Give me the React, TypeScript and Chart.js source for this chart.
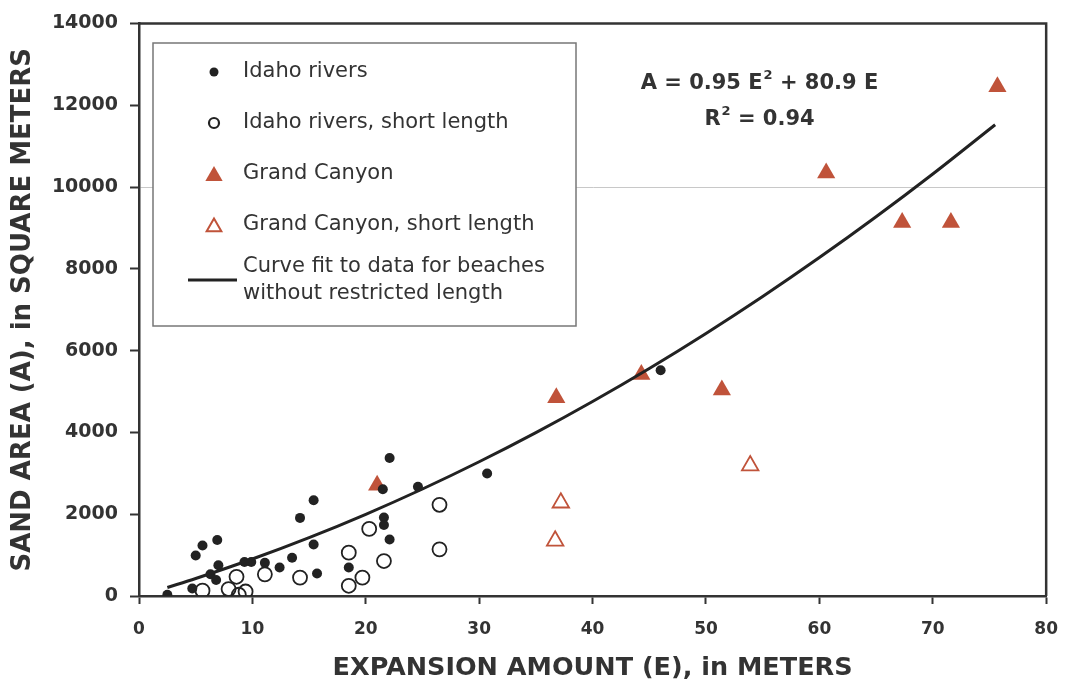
import React, { useEffect, useRef } from "react";
import { Chart, registerables } from "chart.js";
Chart.register(...registerables);

// ---- data ----
const idahoX = [2.5, 4.7, 5.0, 5.6, 6.9, 6.3, 7.0, 6.8, 9.3, 9.9, 11.1, 12.4, 13.5, 14.2, 15.4, 15.4, 15.7, 18.5, 21.5, 21.6, 21.6, 22.1, 22.1, 24.6, 30.7, 46.0];
const idahoY = [30, 185, 990, 1235, 1370, 530, 750, 390, 830, 830, 810, 695, 935, 1910, 2340, 1260, 550, 695, 2610, 1920, 1735, 1380, 3375, 2670, 2995, 5520];
const idahoShortX = [5.6, 7.9, 8.6, 8.8, 9.4, 11.1, 14.2, 18.5, 18.5, 19.7, 20.3, 21.6, 26.5, 26.5];
const idahoShortY = [130, 170, 470, 30, 110, 530, 450, 1060, 250, 450, 1640, 855, 2230, 1140];
const canyonX = [21.0, 36.8, 44.3, 51.4, 60.6, 67.3, 71.6, 75.7];
const canyonY = [2710, 4850, 5415, 5035, 10340, 9130, 9130, 12450];
const canyonShortX = [36.7, 37.2, 53.9];
const canyonShortY = [1350, 2280, 3190];
const curveX = [2.5, 5, 10, 15, 20, 25, 30, 35, 40, 45, 50, 55, 60, 65, 70, 75.5];
const curveY = [208, 428, 904, 1427, 1998, 2616, 3282, 3995, 4756, 5564, 6420, 7323, 8274, 9272, 10318, 11523];
const xTickValues = [0, 10, 20, 30, 40, 50, 60, 70, 80];
const yTickValues = [0, 2000, 4000, 6000, 8000, 10000, 12000, 14000];
const gridLineValue = 10000;
const legendLabels = ["Idaho rivers", "Idaho rivers, short length", "Grand Canyon", "Grand Canyon, short length"];
const curveLabel = ["Curve fit to data for beaches", "without restricted length"];

const FONT = "'DejaVu Sans', Verdana, sans-serif";
const INK = "#333333";
const DOT = "#222222";
const RUST = "#C0533A";

const pts = (xs: number[], ys: number[]) => xs.map((x, i) => ({ x, y: ys[i] }));

export default function App() {
  const ref = useRef<HTMLCanvasElement>(null);
  useEffect(() => {
    const canvas = ref.current!;
    const overlay = {
      id: "overlay",
      afterDraw(chart: any) {
        const { ctx, chartArea: a } = chart;
        ctx.save();
        // frame top/right
        ctx.strokeStyle = INK;
        ctx.lineWidth = 2.5;
        ctx.beginPath();
        ctx.moveTo(a.left, a.top);
        ctx.lineTo(a.right, a.top);
        ctx.lineTo(a.right, a.bottom);
        ctx.stroke();
        // legend box
        const bx = 153, by = 43, bw = 423, bh = 283;
        ctx.fillStyle = "#ffffff";
        ctx.fillRect(bx, by, bw, bh);
        ctx.strokeStyle = "#777777";
        ctx.lineWidth = 1.5;
        ctx.strokeRect(bx, by, bw, bh);
        const mx = 214, tx = 243;
        const rows = [72, 123, 174, 225];
        ctx.font = `21px ${FONT}`;
        ctx.textBaseline = "middle";
        ctx.textAlign = "left";
        rows.forEach((ry, i) => {
          ctx.fillStyle = INK;
          ctx.fillText(legendLabels[i], tx, ry);
        });
        // markers
        ctx.fillStyle = DOT;
        ctx.beginPath(); ctx.arc(mx, rows[0], 4.5, 0, Math.PI * 2); ctx.fill();
        ctx.strokeStyle = DOT; ctx.lineWidth = 2.2;
        ctx.beginPath(); ctx.arc(mx, rows[1], 5, 0, Math.PI * 2); ctx.stroke();
        const tri = (cx: number, cy: number, r: number) => {
          ctx.beginPath();
          ctx.moveTo(cx, cy - r);
          ctx.lineTo(cx + r * 0.866, cy + r * 0.5);
          ctx.lineTo(cx - r * 0.866, cy + r * 0.5);
          ctx.closePath();
        };
        ctx.fillStyle = RUST;
        tri(mx, rows[2] + 2, 10); ctx.fill();
        ctx.strokeStyle = RUST; ctx.lineWidth = 2;
        tri(mx, rows[3] + 2, 8.5); ctx.stroke();
        ctx.strokeStyle = DOT; ctx.lineWidth = 3;
        ctx.beginPath(); ctx.moveTo(188, 280); ctx.lineTo(237, 280); ctx.stroke();
        ctx.fillStyle = INK;
        ctx.fillText(curveLabel[0], tx, 267);
        ctx.fillText(curveLabel[1], tx, 294);
        // equation
        const cx = 759;
        const big = `bold 21px ${FONT}`, small = `bold 13px ${FONT}`;
        const p1 = "A = 0.95 E", p2 = "2", p3 = " + 80.9 E";
        ctx.font = big; const w1 = ctx.measureText(p1).width; const w3 = ctx.measureText(p3).width;
        ctx.font = small; const w2 = ctx.measureText(p2).width;
        let x0 = cx - (w1 + w2 + w3) / 2;
        ctx.fillStyle = INK;
        ctx.font = big; ctx.fillText(p1, x0, 84);
        ctx.font = small; ctx.fillText(p2, x0 + w1 + 1, 76);
        ctx.font = big; ctx.fillText(p3, x0 + w1 + w2 + 1, 84);
        const q1 = "R", q2 = "2", q3 = " = 0.94";
        ctx.font = big; const v1 = ctx.measureText(q1).width; const v3 = ctx.measureText(q3).width;
        ctx.font = small; const v2 = ctx.measureText(q2).width;
        x0 = cx - (v1 + v2 + v3) / 2;
        ctx.font = big; ctx.fillText(q1, x0, 120);
        ctx.font = small; ctx.fillText(q2, x0 + v1 + 1, 112);
        ctx.font = big; ctx.fillText(q3, x0 + v1 + v2 + 1, 120);
        ctx.restore();
      },
    };

    const chart = new Chart(canvas, {
      type: "scatter",
      data: {
        datasets: [
          {
            type: "line",
            label: "curve",
            data: pts(curveX, curveY),
            borderColor: DOT,
            borderWidth: 3,
            pointRadius: 0,
            fill: false,
            tension: 0.4,
            cubicInterpolationMode: "monotone",
          } as any,
          {
            label: "Idaho rivers",
            data: pts(idahoX, idahoY),
            pointStyle: "circle",
            pointRadius: 5,
            backgroundColor: DOT,
            borderColor: DOT,
            borderWidth: 0,
          },
          {
            label: "Idaho rivers, short length",
            data: pts(idahoShortX, idahoShortY),
            pointStyle: "circle",
            pointRadius: 7,
            backgroundColor: "rgba(255,255,255,0)",
            borderColor: DOT,
            borderWidth: 1.8,
          },
          {
            label: "Grand Canyon",
            data: pts(canyonX, canyonY),
            pointStyle: "triangle",
            pointRadius: 10.5,
            backgroundColor: RUST,
            borderColor: RUST,
            borderWidth: 0,
          },
          {
            label: "Grand Canyon, short length",
            data: pts(canyonShortX, canyonShortY),
            pointStyle: "triangle",
            pointRadius: 9.5,
            backgroundColor: "#ffffff",
            borderColor: RUST,
            borderWidth: 1.8,
          },
        ],
      },
      options: {
        animation: false,
        responsive: false,
        events: [],
        layout: { autoPadding: false, padding: { left: 0, top: 20, right: 23, bottom: 0 } },
        plugins: { legend: { display: false }, tooltip: { enabled: false } },
        scales: {
          x: {
            type: "linear",
            min: 0,
            max: 80,
            afterBuildTicks: (s: any) => { s.ticks = xTickValues.map((v) => ({ value: v })); },
            afterFit: (s: any) => { s.height = 88; },
            ticks: { color: INK, font: { family: FONT, size: 17, weight: "bold" }, padding: 15, callback: (v: any) => String(v) },
            grid: { drawOnChartArea: false, tickLength: 8, tickWidth: 2, tickColor: INK },
            border: { color: INK, width: 2.5 },
            title: {
              display: true,
              text: "EXPANSION AMOUNT (E), in METERS",
              color: INK,
              font: { family: FONT, size: 25.5, weight: "bold" },
              padding: { top: 0, bottom: 0 },
            },
          },
          y: {
            type: "linear",
            min: 0,
            max: 14000,
            afterBuildTicks: (s: any) => { s.ticks = yTickValues.map((v) => ({ value: v })); },
            afterFit: (s: any) => { s.width = 139; },
            ticks: { color: INK, font: { family: FONT, size: 19, weight: "bold" }, padding: 12, callback: (v: any) => String(v) },
            grid: {
              drawOnChartArea: true,
              color: (c: any) => (c.tick && c.tick.value === gridLineValue ? "#c8c8c8" : "rgba(0,0,0,0)"),
              lineWidth: 1,
              tickLength: 9,
              tickWidth: 2,
              tickColor: INK,
            },
            border: { color: INK, width: 2.5 },
            title: {
              display: true,
              text: "SAND AREA (A), in SQUARE METERS",
              color: INK,
              font: { family: FONT, size: 26, weight: "bold" },
              padding: { top: 8, bottom: 0 },
            },
          },
        },
      },
      plugins: [overlay],
    });
    return () => chart.destroy();
  }, []);
  return (
    <div style={{ position: "absolute", left: 0, top: 0, width: 1073, height: 684, background: "#fff" }}>
      <canvas ref={ref} width={1073} height={684} style={{ display: "block" }} />
    </div>
  );
}
